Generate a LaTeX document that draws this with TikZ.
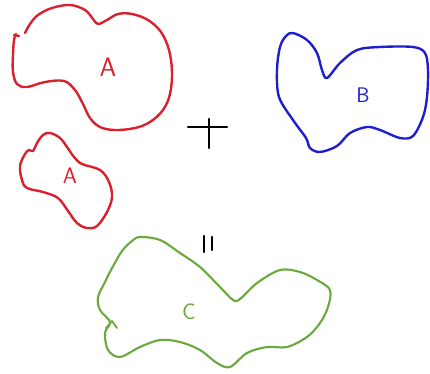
\documentclass[tikz,border=0pt]{standalone}
\usepackage{tikz}

\definecolor{blobred}{RGB}{218,32,44}
\definecolor{blobblue}{RGB}{30,30,205}
\definecolor{blobgreen}{RGB}{108,168,62}

\tikzset{
	blob/.style={line width=3.4pt, line join=round, line cap=round},
	mark letter/.style={font=\sffamily\fontsize{38}{38}\selectfont, inner sep=0pt},
	stroke/.style={line width=3pt, line cap=round, black}
}

\begin{document}
\begin{tikzpicture}[x=0.05cm, y=-0.05cm]
	\useasboundingbox (0,0) rectangle (430,373);
	
	% Khối A lớn (nét hở ở góc trên trái)
	\draw[blob, draw=blobred] plot[smooth, tension=0.6] coordinates {
		(25,33) (30,24) (38,15) (52,8) (70,5) (85,10) (93,19) (98,24) (107,20) (118,14)
		(132,14) (148,20) (161,32) (169,50) (172,72) (170,94) (163,110) (150,122)
		(135,128) (115,130) (100,127) (90,118) (83,104) (75,90) (64,81) (45,82)
		(27,87) (17,84) (13,72) (13,55) (14,40) (16,34)};
	\draw[blob, draw=blobred] (14,35) -- (19,36);
	\node[mark letter, text=blobred] (labelA) at (108,67) {A};
	
	% Khối A nhỏ
	\draw[blob, draw=blobred] plot[smooth cycle, tension=0.6] coordinates {
		(50,133) (60,138) (67,147) (74,157) (82,164) (100,170) (109,182) (112,197)
		(107,212) (97,226) (87,228) (77,223) (68,211) (58,198) (43,192) (27,188)
		(22,180) (20,166) (25,154) (29,150) (33,151) (37,143) (43,135)};
	\node[mark letter, text=blobred, font=\sffamily\fontsize{32}{32}\selectfont] (labelA2) at (70,176) {A};
	
	% Dấu cộng
	\draw[stroke] (188,127) -- (227,127);
	\draw[stroke] (209,119) -- (209,148);
	
	% Khối B
	\draw[blob, draw=blobblue] plot[smooth cycle, tension=0.55] coordinates {
		(293,33) (307,40) (317,53) (322,70) (327,78) (340,63) (357,50) (380,47)
		(413,47) (425,53) (428,70) (427,97) (423,117) (413,136) (400,138) (380,130)
		(367,127) (350,133) (337,146) (320,152) (310,148) (306,138) (293,120)
		(279,97) (277,70) (280,47) (286,36)};
	\node[mark letter, text=blobblue, font=\sffamily\fontsize{30}{30}\selectfont] (labelB) at (363,95) {B};
	
	% Dấu bằng (viết dọc)
	\draw[stroke] (204,236) -- (204,252);
	\draw[stroke] (212,237) -- (212,250);
	
	% Khối C
	\draw[blob, draw=blobgreen, line width=3pt] plot[smooth cycle, tension=0.55] coordinates {
		(140,237) (160,240) (180,253) (200,267) (220,287) (233,300) (240,299)
		(257,283) (280,270) (300,272) (317,280) (330,290) (328,307) (320,323)
		(307,337) (287,347) (267,347) (247,353) (230,367) (217,363) (200,350)
		(180,342) (160,340) (140,347) (120,357) (108,350) (105,333) (110,322)
		(100,310) (98,297) (105,282) (111,270) (122,251) (132,241)};
	\draw[blob, draw=blobgreen, line width=2.6pt] (106,328) -- (112,321) -- (117,328);
	\node[mark letter, text=blobgreen, font=\sffamily\fontsize{32}{32}\selectfont] (labelC) at (189,312) {C};
\end{tikzpicture}
\end{document}
